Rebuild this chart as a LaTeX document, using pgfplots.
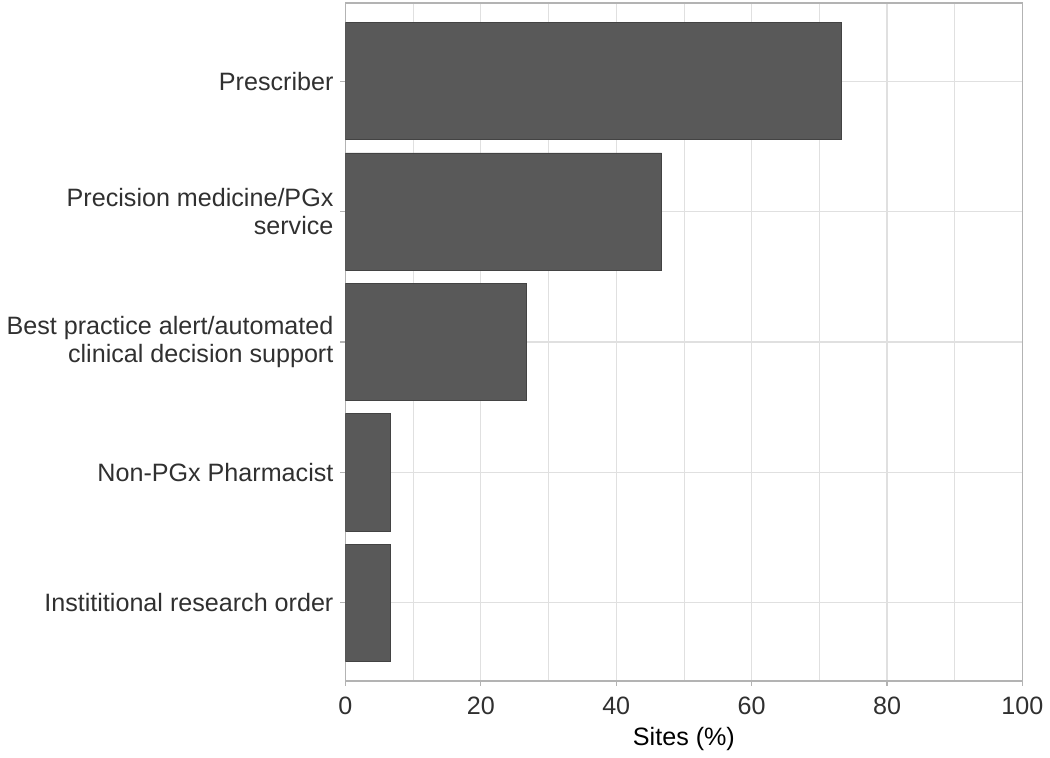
\documentclass[border=0pt]{standalone}
\usepackage{pgfplots}
\pgfplotsset{compat=1.18}
\usepackage{fontspec}
\setmainfont{Liberation Sans}
\definecolor{barfill}{HTML}{595959}
\definecolor{baredge}{HTML}{434343}
\definecolor{gridgray}{HTML}{E0E0E0}
\definecolor{bordergray}{HTML}{B3B3B3}
\definecolor{textgray}{HTML}{303030}
\begin{document}
\begin{tikzpicture}
\begin{axis}[
  name=ax,
  xbar,
  scale only axis,
  width=339.5pt,
  height=340pt,
  xmin=0, xmax=100,
  ymin=-0.6, ymax=4.6,
  xtick={0,20,...,100},
  minor xtick={10,30,...,90},
  ytick={0,...,4},
  yticklabels={
    {Instititional research order},
    {Non-PGx Pharmacist},
    {Best practice alert/automated\\clinical decision support},
    {Precision medicine/PGx\\service},
    {Prescriber}},
  xmajorgrids, xminorgrids, ymajorgrids,
  grid style={color=gridgray, line width=0.6pt},
  minor grid style={color=gridgray, line width=0.4pt},
  axis line style={color=bordergray, line width=0.7pt},
  tick style={color=bordergray, line width=0.6pt},
  tick align=outside,
  major tick length=2.5pt,
  minor tick length=0pt,
  xtick pos=bottom,
  ytick pos=left,
  font=\fontsize{12.6}{14}\selectfont,
  ticklabel style={color=textgray},
  xticklabel style={yshift=-2pt},
  yticklabel style={align=right},
  xlabel={Sites (\%)},
  xlabel style={color=black, yshift=0.5pt},
  /pgf/number format/assume math mode=true,
]
\addplot[fill=barfill, draw=baredge, line width=0.4pt, bar width=0.9]
  coordinates {(6.7,0) (6.7,1) (26.7,2) (46.7,3) (73.3,4)};
\end{axis}
\path ([yshift=1.5pt]ax.north);
\end{tikzpicture}
\end{document}
